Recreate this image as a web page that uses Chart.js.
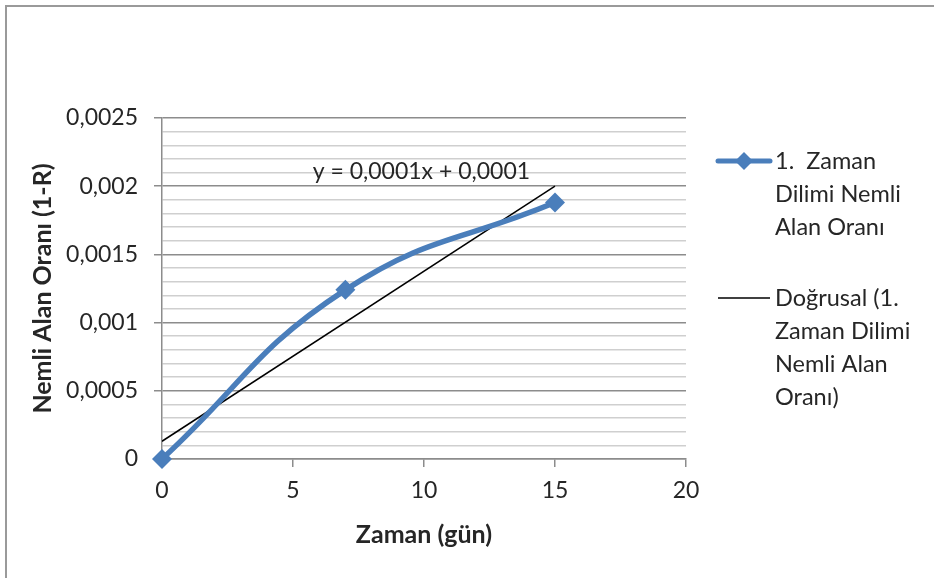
<!DOCTYPE html>
<html><head><meta charset="utf-8">
<script src="https://cdn.jsdelivr.net/npm/chart.js@4/dist/chart.umd.min.js"></script>
<style>html,body{margin:0;padding:0;background:#fff;}#wrap{position:relative;width:934px;height:578px;}</style>
</head><body><div id="wrap"><canvas id="c" width="934" height="578"></canvas></div>
<script>
const xValues = [0, 7, 15];
const seriesValues = [0, 0.00124, 0.00188];
const trendX = [0, 15];
const trendValues = [0.00013, 0.002];
const seriesLabel = ['1.  Zaman', 'Dilimi Nemli', 'Alan Oranı'];
const trendLabel = ['Doğrusal (1.', 'Zaman Dilimi', 'Nemli Alan', 'Oranı)'];
const equationText = 'y = 0,0001x + 0,0001';
const xTitle = 'Zaman (gün)';
const yTitle = 'Nemli Alan Oranı (1-R)';

const FONT = 'Lato, "Open Sans", sans-serif';
const TXT = '#262626';
const BLUE = '#4a7ebb';

const fmt = v => String(Math.round(v * 10000) / 10000).replace('.', ',');
const isMajor = v => Math.round(v * 10000) % 5 === 0;

const decor = {
  id: 'decor',
  beforeDraw(chart) {
    const ctx = chart.ctx;
    ctx.save();
    ctx.strokeStyle = '#9a9a9a';
    ctx.lineWidth = 2;
    ctx.strokeRect(6, 6, 2000, 2000);
    ctx.restore();
  },
  afterDraw(chart) {
    const ctx = chart.ctx;
    const xs = chart.scales.x, ys = chart.scales.y;
    ctx.save();
    ctx.fillStyle = TXT;
    ctx.font = '23px ' + FONT;
    ctx.textBaseline = 'middle';
    ctx.textAlign = 'center';
    ctx.fillText(equationText, xs.getPixelForValue(9.9), ys.getPixelForValue(0.002105));
    // legend
    ctx.textAlign = 'left';
    ctx.font = '23.5px ' + FONT;
    const lx0 = 718, lx1 = 770, tx = 775, lh = 33;
    let y = 161;
    ctx.strokeStyle = BLUE; ctx.lineWidth = 5; ctx.lineCap = 'round';
    ctx.beginPath(); ctx.moveTo(lx0, y); ctx.lineTo(lx1, y); ctx.stroke();
    ctx.fillStyle = BLUE;
    ctx.beginPath(); ctx.moveTo(744, y - 9); ctx.lineTo(753, y); ctx.lineTo(744, y + 9); ctx.lineTo(735, y); ctx.closePath(); ctx.fill();
    ctx.fillStyle = TXT;
    seriesLabel.forEach((t, i) => ctx.fillText(t, tx, y + i * lh));
    y = 298;
    ctx.strokeStyle = '#000'; ctx.lineWidth = 1.5; ctx.lineCap = 'butt';
    ctx.beginPath(); ctx.moveTo(lx0, y); ctx.lineTo(lx1, y); ctx.stroke();
    trendLabel.forEach((t, i) => ctx.fillText(t, tx, y + i * lh));
    ctx.restore();
  }
};

new Chart(document.getElementById('c'), {
  type: 'scatter',
  data: {
    datasets: [
      {
        label: 'Trend',
        data: trendX.map((x, i) => ({x, y: trendValues[i]})),
        showLine: true, borderColor: '#000', borderWidth: 1.5, pointRadius: 0, tension: 0, order: 2
      },
      {
        label: seriesLabel.join(' '),
        data: xValues.map((x, i) => ({x, y: seriesValues[i]})),
        showLine: true, borderColor: BLUE, backgroundColor: BLUE, borderWidth: 5.5, clip: false,
        pointStyle: 'rectRot', pointRadius: 10, pointBorderWidth: 0, tension: 0.45, order: 1
      }
    ]
  },
  plugins: [decor],
  options: {
    responsive: false, animation: false,
    layout: { padding: { top: 118, right: 248, left: 0, bottom: 0 } },
    plugins: { legend: { display: false }, tooltip: { enabled: false } },
    scales: {
      x: {
        type: 'linear', min: 0, max: 20,
        ticks: { stepSize: 5, color: TXT, font: { family: FONT, size: 23 }, padding: 10, maxRotation: 0 },
        grid: { drawOnChartArea: false, tickLength: 8, color: '#8c8c8c', tickColor: '#8c8c8c', lineWidth: 1.5 },
        border: { color: '#8c8c8c', width: 1.5 },
        title: { display: true, text: xTitle, color: TXT, font: { family: FONT, size: 25, weight: 'bold' }, padding: { top: 0, bottom: 28 } },
        afterFit(s) { s.height = 119; }
      },
      y: {
        type: 'linear', min: 0, max: 0.0025,
        ticks: { stepSize: 0.0001, autoSkip: false, color: TXT, font: { family: FONT, size: 23 }, padding: 16,
          callback: v => isMajor(v) ? fmt(v) : '' },
        grid: {
          tickLength: 8,
          color: c => isMajor(c.tick.value) ? '#8c8c8c' : '#cfcfcf',
          tickColor: c => isMajor(c.tick.value) ? '#8c8c8c' : 'rgba(0,0,0,0)',
          lineWidth: 1.5
        },
        border: { color: '#8c8c8c', width: 1.5 },
        title: { display: true, text: yTitle, color: TXT, font: { family: FONT, size: 25, weight: 'bold' }, padding: { top: 28, bottom: 0 } },
        afterFit(s) { s.width = 162; }
      }
    }
  }
});
</script></body></html>
